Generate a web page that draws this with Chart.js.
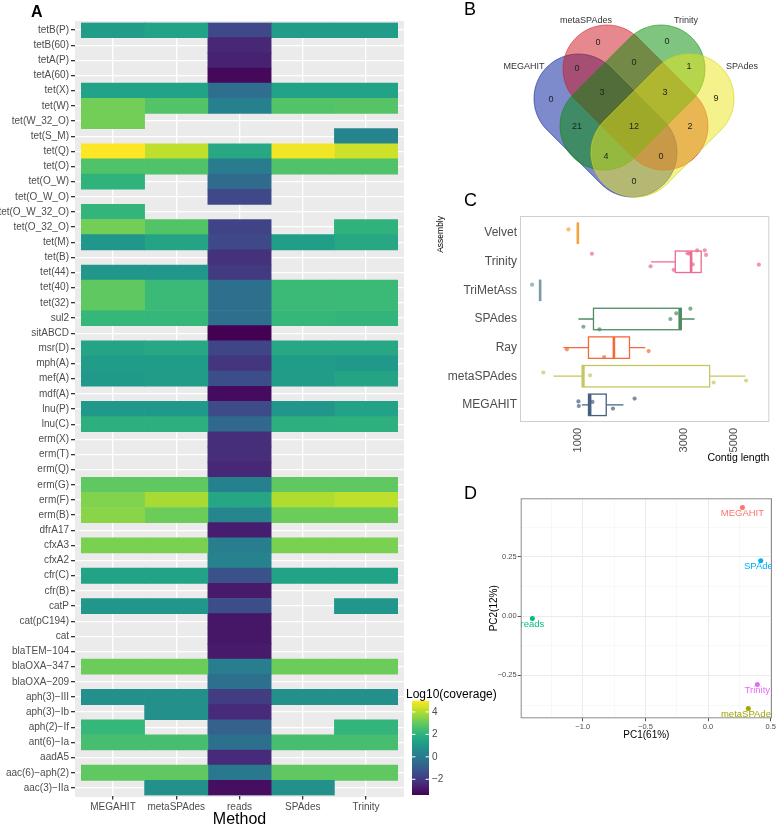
<!DOCTYPE html>
<html>
<head>
<meta charset="utf-8">
<script src="https://cdn.jsdelivr.net/npm/chart.js@4.4.1/dist/chart.umd.min.js"></script>
<style>
  body { margin: 0; background: #fff; }
  #wrap { position: relative; width: 777px; height: 828px; overflow: hidden; font-family: 'Liberation Sans', Arial, sans-serif; }
  canvas { position: absolute; }
  .tag { position: absolute; font-size: 18px; line-height: 18px; color: #000; }
</style>
</head>
<body>
<div id="wrap">
  <canvas id="heat" width="500" height="828" style="left:0;top:0"></canvas>
  <canvas id="venn" width="307" height="205" style="left:470px;top:0"></canvas>
  <canvas id="box" width="377" height="270" style="left:400px;top:200px"></canvas>
  <canvas id="pca" width="312" height="270" style="left:465px;top:480px"></canvas>
  <div class="tag" style="left:31px;top:3px;font-weight:bold;font-size:16px">A</div>
  <div class="tag" style="left:464px;top:0px">B</div>
  <div class="tag" style="left:464px;top:191px">C</div>
  <div class="tag" style="left:464px;top:484px">D</div>
</div>
<script>
Chart.defaults.font.family = "'Liberation Sans', Arial, sans-serif";
Chart.defaults.animation = false;
Chart.defaults.responsive = false;
Chart.defaults.events = [];
Chart.defaults.plugins.legend.display = false;
Chart.defaults.plugins.tooltip.enabled = false;

// =====================
// A: heatmap data
// =====================
const genes = ['tetB(P)','tetB(60)','tetA(P)','tetA(60)','tet(X)','tet(W)','tet(W_32_O)','tet(S_M)','tet(Q)','tet(O)',
  'tet(O_W)','tet(O_W_O)','tet(O_W_32_O)','tet(O_32_O)','tet(M)','tet(B)','tet(44)','tet(40)','tet(32)','sul2',
  'sitABCD','msr(D)','mph(A)','mef(A)','mdf(A)','lnu(P)','lnu(C)','erm(X)','erm(T)','erm(Q)',
  'erm(G)','erm(F)','erm(B)','dfrA17','cfxA3','cfxA2','cfr(C)','cfr(B)','catP','cat(pC194)',
  'cat','blaTEM\u2212104','blaOXA\u2212347','blaOXA\u2212209','aph(3)\u2212III','aph(3)\u2212Ib','aph(2)\u2212If','ant(6)\u2212Ia','aadA5','aac(6)\u2212aph(2)',
  'aac(3)\u2212IIa'];
const methods = ['MEGAHIT', 'metaSPAdes', 'reads', 'SPAdes', 'Trinity'];

// log10 coverage per method, null = gene not found
const covMEGAHIT = [1.2,null,null,null,1.4,3.2,3.2,null,5.0,2.65, 2.0,null,2.1,3.2,1.0,null,1.0,2.9,2.9,2.2,
  null,1.5,1.2,1.1,null,1.1,1.9,null,null,null, 2.9,3.4,3.5,null,3.3,null,1.4,null,1.0,null,
  null,null,3.1,null,0.8,null,2.2,2.5,null,2.9, null];
const covMetaSPAdes = [1.4,null,null,null,1.4,2.7,null,null,4.2,2.65, null,null,null,2.7,1.5,null,1.0,2.3,2.3,2.2,
  null,1.6,1.2,1.2,null,1.1,1.9,null,null,null, 2.9,3.9,3.1,null,3.3,null,1.4,null,1.0,null,
  null,null,3.1,null,0.8,0.8,null,2.5,null,2.9, 0.8];
const covReads = [-1.6,-2.5,-2.6,-3.2,-0.4,0.3,null,null,1.6,0.1, -0.5,-1.6,null,-1.7,-1.6,-2.2,-2.0,-0.35,-0.35,-0.35,
  -3.4,-1.65,-2.1,-1.4,-3.15,-1.5,-0.6,-2.3,-2.3,-2.5, 0.3,1.55,0.5,-2.7,0.2,0.35,-1.3,-2.8,-1.4,-2.9,
  -2.9,-2.8,0.2,-0.3,-1.9,-2.4,-0.8,-0.3,-2.4,-0.04, -3.1];
const covSPAdes = [1.2,null,null,null,1.4,2.7,null,null,4.85,2.65, null,null,null,null,1.3,null,null,2.3,2.3,2.2,
  null,1.6,1.2,1.2,null,1.0,1.9,null,null,null, 2.9,4.0,3.1,null,3.3,null,1.4,null,null,null,
  null,null,3.1,null,0.8,null,null,2.5,null,2.9, 0.8];
const covTrinity = [1.2,null,null,null,1.4,2.75,null,0.4,4.4,2.65, null,null,null,2.0,1.6,null,null,2.3,2.3,2.1,
  null,1.6,1.1,1.5,null,1.4,1.9,null,null,null, 2.9,4.2,3.1,null,3.3,null,1.4,null,1.0,null,
  null,null,3.1,null,0.8,null,2.1,2.5,null,2.9, null];
const coverage = [covMEGAHIT, covMetaSPAdes, covReads, covSPAdes, covTrinity];
const legendTicks = [4, 2, 0, -2];

// =====================
// B: Venn counts
// =====================
const vennSets = ['MEGAHIT', 'metaSPAdes', 'Trinity', 'SPAdes'];
const vennCounts = [0, 0, 0, 0, 1, 0, 3, 3, 9, 21, 12, 2, 4, 0, 0];

// =====================
// C: contig lengths
// =====================
const assemblies = ['MEGAHIT', 'metaSPAdes', 'Ray', 'SPAdes', 'TriMetAss', 'Trinity', 'Velvet'];
const contigLengths = [
  [1006, 1010, 1163, 1436, 1795],
  [701, 1135, 4055, 5665],
  [893, 1312, 2074],
  [3190, 2760, 2595, 1059, 1250],
  [624],
  [1156, 2116, 2685, 3095, 3160, 3265, 3420, 3700, 3750, 6460],
  [908]
];
const contigJitter = [
  [0.12, -0.04, 0.10, -0.13, 0.22],
  [0.13, 0.03, -0.22, -0.15],
  [-0.06, -0.33, -0.12],
  [0.36, 0.2, 0, -0.27, -0.36],
  [0.2],
  [0.28, -0.16, -0.28, 0.3, 0.28, -0.09, 0.4, 0.4, 0.24, -0.1],
  [0.13]
];
const boxLow  = [1042, 778, 862, 1006, 678, 2125, 1000];
const boxQ1   = [1116, 1045, 1116, 1175, 678, 2730, 1000];
const boxMed  = [1135, 1059, 1450, 2857, 678, 3213, 1000];
const boxQ3   = [1340, 3890, 1703, 2905, 678, 3565, 1000];
const boxHigh = [1600, 5630, 2004, 3330, 678, 3600, 1000];
const contigTicks = [1000, 3000, 5000];

// =====================
// D: PCA
// =====================
const pcaNames = ['MEGAHIT', 'metaSPAdes', 'reads', 'SPAdes', 'Trinity'];
const pc1 = [0.274, 0.321, -1.402, 0.420, 0.393];
const pc2 = [0.457, -0.390, -0.010, 0.233, -0.289];

// ---------- colours ----------
const viridisStops = ['#440154','#482878','#3E4A89','#31688E','#26828E','#1F9E89','#35B779','#6DCD59','#B4DE2C','#FDE725'];
function hexRgb(h) { return [1, 3, 5].map(i => parseInt(h.substr(i, 2), 16)); }
function viridis(t) {
  t = Math.max(0, Math.min(1, t));
  const p = t * 9, i = Math.min(8, Math.floor(p)), f = p - i;
  const a = hexRgb(viridisStops[i]), b = hexRgb(viridisStops[i + 1]);
  return 'rgb(' + a.map((v, k) => Math.round(v + (b[k] - v) * f)).join(',') + ')';
}
const allCov = coverage.flat().filter(v => v !== null);
const cmin = Math.min(...allCov), cmax = Math.max(...allCov);
const colourOf = v => viridis((v - cmin) / (cmax - cmin));

// grey panel behind tiles
const panelBg = {
  id: 'panelBg',
  beforeDraw(chart) {
    const { ctx, chartArea: a } = chart;
    const ext = (a.bottom - a.top) / genes.length * 0.1;
    ctx.save();
    ctx.fillStyle = '#EBEBEB';
    ctx.fillRect(a.left, a.top - ext, a.right - a.left, a.bottom - a.top + 2 * ext);
    ctx.restore();
  }
};

// colourbar legend
const colourBar = {
  id: 'colourBar',
  afterDraw(chart) {
    const ctx = chart.ctx;
    const x0 = 412, w = 17, yTop = 700.7, yBot = 795;
    const yOf = v => yBot - (v - cmin) / (cmax - cmin) * (yBot - yTop);
    ctx.save();
    const g = ctx.createLinearGradient(0, yBot, 0, yTop);
    for (let k = 0; k <= 30; k++) g.addColorStop(k / 30, viridis(k / 30));
    ctx.fillStyle = g;
    ctx.fillRect(x0, yTop, w, yBot - yTop);
    ctx.strokeStyle = '#fff';
    ctx.lineWidth = 1;
    ctx.fillStyle = '#4D4D4D';
    ctx.font = "10px 'Liberation Sans', Arial, sans-serif";
    ctx.textBaseline = 'middle';
    legendTicks.forEach(v => {
      const y = yOf(v);
      ctx.beginPath();
      ctx.moveTo(x0, y); ctx.lineTo(x0 + 3.4, y);
      ctx.moveTo(x0 + w - 3.4, y); ctx.lineTo(x0 + w, y);
      ctx.stroke();
      ctx.fillText(v < 0 ? '\u2212' + Math.abs(v) : String(v), x0 + w + 3, y);
    });
    ctx.fillStyle = '#000';
    ctx.font = "12px 'Liberation Sans', Arial, sans-serif";
    ctx.fillText('Log10(coverage)', 406, 695);
    ctx.restore();
  }
};

new Chart(document.getElementById('heat'), {
  type: 'bar',
  data: {
    labels: genes,
    datasets: methods.map((m, j) => ({
      label: m,
      data: coverage[j].map(v => v === null ? null : [j - 0.5, j + 0.5]),
      backgroundColor: coverage[j].map(v => v === null ? 'rgba(0,0,0,0)' : colourOf(v)),
      borderWidth: 0,
      barPercentage: 1,
      categoryPercentage: 1,
      grouped: false
    }))
  },
  options: {
    indexAxis: 'y',
    layout: { padding: { top: 22.5, right: 96, left: 0, bottom: 0 } },
    scales: {
      x: {
        type: 'linear', min: -0.6, max: 4.6,
        afterBuildTicks: s => { s.ticks = methods.map((m, i) => ({ value: i })); },
        ticks: { callback: v => methods[v], color: '#4D4D4D', font: { size: 10 }, padding: 2, maxRotation: 0, autoSkip: false },
        grid: { color: '#fff', lineWidth: 1.3, tickColor: '#333', tickLength: 4 },
        border: { display: false },
        title: { display: true, text: 'Method', color: '#000', font: { size: 16, lineHeight: 1 }, padding: 0 },
        afterFit: s => { s.height = 32.5; }
      },
      y: {
        ticks: { color: '#4D4D4D', font: { size: 10 }, padding: 2, autoSkip: false },
        grid: { offset: false, color: '#fff', lineWidth: 1.3, tickColor: '#333', tickLength: 4 },
        border: { display: false },
        afterFit: s => { s.width = 75; }
      }
    }
  },
  plugins: [panelBg, colourBar]
});

// =====================
// B: Venn diagram, stadium shapes in page-pixel data units
// =====================
const vennShapes = [
  { p1: [578.5, 98.5], p2: [632.5, 152.5], r: 44.5, fill: 'rgba(15,40,160,0.54)', line: 'rgba(15,40,160,0.75)' },
  { p1: [607, 69],     p2: [664, 126],     r: 44,   fill: 'rgba(205,20,30,0.5)',  line: 'rgba(205,20,30,0.65)' },
  { p1: [661, 69],     p2: [604, 126],     r: 44,   fill: 'rgba(0,140,0,0.5)',    line: 'rgba(0,140,0,0.65)' },
  { p1: [689.5, 98.5], p2: [635.5, 152.5], r: 44.5, fill: 'rgba(235,230,25,0.5)', line: 'rgba(215,210,20,0.8)' }
];
const vennNamePos = [[524, 67], [586, 21], [686, 21], [742, 67]];
const vennCountPos = [[551, 100], [598, 43], [667, 42], [634, 63], [689, 67], [577, 69], [602, 93], [665, 93],
  [716, 99], [577, 127], [634, 127], [690, 127], [606, 157], [661, 157], [634, 182]];

const vennPlugin = {
  id: 'vennPlugin',
  afterDatasetsDraw(chart) {
    const { ctx, scales: { x, y } } = chart;
    ctx.save();
    vennShapes.forEach(e => {
      const th = Math.atan2(e.p2[1] - e.p1[1], e.p2[0] - e.p1[0]);
      const pts = [];
      for (let k = 0; k <= 40; k++) {
        const f = th + Math.PI / 2 + k / 40 * Math.PI;
        pts.push([e.p1[0] + e.r * Math.cos(f), e.p1[1] + e.r * Math.sin(f)]);
      }
      for (let k = 0; k <= 40; k++) {
        const f = th - Math.PI / 2 + k / 40 * Math.PI;
        pts.push([e.p2[0] + e.r * Math.cos(f), e.p2[1] + e.r * Math.sin(f)]);
      }
      ctx.beginPath();
      pts.forEach((p, k) => {
        const px = x.getPixelForValue(p[0]), py = y.getPixelForValue(p[1]);
        if (k) ctx.lineTo(px, py); else ctx.moveTo(px, py);
      });
      ctx.closePath();
      ctx.fillStyle = e.fill;
      ctx.fill();
      ctx.strokeStyle = e.line;
      ctx.lineWidth = 0.8;
      ctx.stroke();
    });
    ctx.textAlign = 'center';
    ctx.textBaseline = 'middle';
    ctx.font = "9px 'Liberation Sans', Arial, sans-serif";
    ctx.fillStyle = '#222';
    vennCounts.forEach((c, i) => {
      ctx.fillText(String(c), x.getPixelForValue(vennCountPos[i][0]), y.getPixelForValue(vennCountPos[i][1]));
    });
    ctx.fillStyle = '#333';
    vennSets.forEach((s, i) => {
      ctx.fillText(s, x.getPixelForValue(vennNamePos[i][0]), y.getPixelForValue(vennNamePos[i][1]));
    });
    ctx.restore();
  }
};

new Chart(document.getElementById('venn'), {
  type: 'scatter',
  data: { datasets: [{ data: [] }] },
  options: {
    layout: { padding: 0 },
    scales: {
      x: { type: 'linear', min: 470, max: 777, display: false },
      y: { type: 'linear', min: 0, max: 205, reverse: true, display: false }
    }
  },
  plugins: [vennPlugin]
});

// =====================
// C: box plots of contig length
// =====================
const asmColours = ['#46607E', '#C6C660', '#F26A3A', '#4E8B61', '#7D98A8', '#EE6A8E', '#F5A33A'];

const boxPlugin = {
  id: 'boxPlugin',
  beforeDatasetsDraw(chart) {
    const { ctx, scales: { x, y } } = chart;
    ctx.save();
    assemblies.forEach((a, i) => {
      const yc = y.getPixelForValue(i + 1);
      const yt = y.getPixelForValue(i + 1.375), yb = y.getPixelForValue(i + 0.625);
      const xl = x.getPixelForValue(boxLow[i]), x1 = x.getPixelForValue(boxQ1[i]);
      const xm = x.getPixelForValue(boxMed[i]), x3 = x.getPixelForValue(boxQ3[i]);
      const xh = x.getPixelForValue(boxHigh[i]);
      ctx.strokeStyle = asmColours[i];
      ctx.lineWidth = 1.3;
      ctx.beginPath();
      ctx.moveTo(xl, yc); ctx.lineTo(x1, yc);
      ctx.moveTo(x3, yc); ctx.lineTo(xh, yc);
      ctx.stroke();
      ctx.fillStyle = '#fff';
      ctx.fillRect(x1, yt, x3 - x1, yb - yt);
      ctx.strokeRect(x1, yt, x3 - x1, yb - yt);
      ctx.lineWidth = 2.6;
      ctx.beginPath();
      ctx.moveTo(xm, yt); ctx.lineTo(xm, yb);
      ctx.stroke();
    });
    ctx.restore();
  },
  afterDraw(chart) {
    const { ctx, chartArea: a } = chart;
    ctx.save();
    ctx.strokeStyle = '#CFCFCF';
    ctx.lineWidth = 1;
    ctx.strokeRect(a.left + 0.5, a.top + 0.5, a.right - a.left - 1, a.bottom - a.top - 1);
    ctx.restore();
  }
};

new Chart(document.getElementById('box'), {
  type: 'scatter',
  data: {
    datasets: assemblies.map((a, i) => ({
      label: a,
      data: contigLengths[i].map((v, k) => ({ x: v, y: i + 1 + contigJitter[i][k] })),
      backgroundColor: asmColours[i] + 'B3',
      borderWidth: 0,
      pointRadius: 2.1
    }))
  },
  options: {
    layout: { padding: { top: 16, right: 7.7, left: 0, bottom: 0 } },
    scales: {
      x: {
        type: 'logarithmic', min: 551, max: 7194,
        afterBuildTicks: s => { s.ticks = contigTicks.map(v => ({ value: v })); },
        ticks: { callback: v => String(v), minRotation: 90, maxRotation: 90, color: '#4D4D4D', font: { size: 11 }, padding: 6, autoSkip: false },
        grid: { display: false, drawTicks: false },
        border: { display: false },
        title: { display: true, text: 'Contig length', align: 'end', color: '#000', font: { size: 10.5 }, padding: { top: 0, bottom: 5.4 } },
        afterFit: s => { s.height = 48; }
      },
      y: {
        type: 'linear', min: 0.4, max: 7.6,
        afterBuildTicks: s => { s.ticks = assemblies.map((a, i) => ({ value: i + 1 })); },
        ticks: { callback: v => assemblies[v - 1], color: '#4D4D4D', font: { size: 12 }, padding: 3, autoSkip: false },
        grid: { display: false, drawTicks: false },
        border: { display: false },
        title: { display: true, text: 'Assembly', align: 'end', color: '#000', font: { size: 8.5 }, padding: { top: 36, bottom: 0 } },
        afterFit: s => { s.width = 120; }
      }
    }
  },
  plugins: [boxPlugin]
});

// =====================
// D: PCA
// =====================
const pcaColours = ['#F8766D', '#A3A500', '#00BF7D', '#00B0F6', '#E76BF3'];
const xTicksD = [-1.25, -1, -0.75, -0.5, -0.25, 0, 0.25, 0.5];
const yTicksD = [-0.375, -0.25, -0.125, 0, 0.125, 0.25, 0.375];
const xMajorD = [-1, -0.5, 0, 0.5];
const yMajorD = [-0.25, 0, 0.25];
const isMajor = (list, v) => list.some(m => Math.abs(m - v) < 1e-9);
const fmtMinus = s => s.replace('-', '\u2212');

const pcaPlugin = {
  id: 'pcaPlugin',
  afterDatasetsDraw(chart) {
    const { ctx, chartArea: a, scales: { x, y } } = chart;
    ctx.save();
    ctx.beginPath();
    ctx.rect(a.left, a.top, a.right - a.left, a.bottom - a.top);
    ctx.clip();
    ctx.font = "9.5px 'Liberation Sans', Arial, sans-serif";
    ctx.textAlign = 'center';
    ctx.textBaseline = 'middle';
    pcaNames.forEach((n, i) => {
      ctx.fillStyle = pcaColours[i];
      ctx.fillText(n, x.getPixelForValue(pc1[i]), y.getPixelForValue(pc2[i]) + 5.5);
    });
    ctx.restore();
    ctx.save();
    ctx.strokeStyle = '#8C8C8C';
    ctx.lineWidth = 1;
    ctx.strokeRect(a.left + 0.5, a.top + 0.5, a.right - a.left - 1, a.bottom - a.top - 1);
    ctx.restore();
  }
};

new Chart(document.getElementById('pca'), {
  type: 'scatter',
  data: {
    datasets: pcaNames.map((n, i) => ({
      label: n,
      data: [{ x: pc1[i], y: pc2[i] }],
      backgroundColor: pcaColours[i],
      borderWidth: 0,
      pointRadius: 2.5
    }))
  },
  options: {
    layout: { padding: { top: 18.3, right: 5, left: 0, bottom: 0 } },
    scales: {
      x: {
        type: 'linear', min: -1.495, max: 0.51,
        afterBuildTicks: s => { s.ticks = xTicksD.map(v => ({ value: v })); },
        ticks: {
          callback: v => isMajor(xMajorD, v) ? fmtMinus(v.toFixed(1)) : '',
          color: '#4D4D4D', font: { size: 7.5 }, padding: 1, maxRotation: 0, autoSkip: false
        },
        grid: {
          color: c => isMajor(xMajorD, c.tick.value) ? '#EBEBEB' : '#F3F3F3',
          lineWidth: c => isMajor(xMajorD, c.tick.value) ? 1 : 0.6,
          tickColor: c => isMajor(xMajorD, c.tick.value) ? '#555' : 'rgba(0,0,0,0)',
          tickLength: 3
        },
        border: { display: false },
        title: { display: true, text: 'PC1(61%)', color: '#000', font: { size: 10 }, padding: { top: 0, bottom: 9 } },
        afterFit: s => { s.height = 31.7; }
      },
      y: {
        type: 'linear', min: -0.431, max: 0.496,
        afterBuildTicks: s => { s.ticks = yTicksD.map(v => ({ value: v })); },
        ticks: {
          callback: v => isMajor(yMajorD, v) ? fmtMinus(v.toFixed(2)) : '',
          color: '#4D4D4D', font: { size: 7.5 }, padding: 1, autoSkip: false
        },
        grid: {
          color: c => isMajor(yMajorD, c.tick.value) ? '#EBEBEB' : '#F3F3F3',
          lineWidth: c => isMajor(yMajorD, c.tick.value) ? 1 : 0.6,
          tickColor: c => isMajor(yMajorD, c.tick.value) ? '#555' : 'rgba(0,0,0,0)',
          tickLength: 3
        },
        border: { display: false },
        title: { display: true, text: 'PC2(12%)', color: '#000', font: { size: 10 }, padding: { top: 23, bottom: 0 } },
        afterFit: s => { s.width = 55.7; }
      }
    }
  },
  plugins: [pcaPlugin]
});
</script>
</body>
</html>
